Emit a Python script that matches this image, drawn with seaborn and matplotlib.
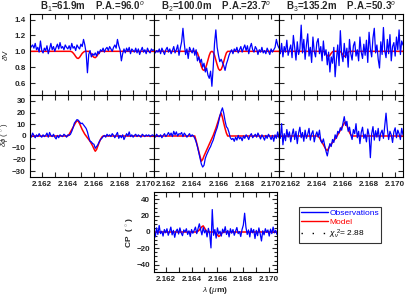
import numpy as np
import matplotlib
matplotlib.use("Agg")
import matplotlib.pyplot as plt
from matplotlib.ticker import MultipleLocator
from matplotlib.lines import Line2D
import seaborn as sns

# spectral grid (96 channels)
wl = np.linspace(2.1611, 2.1706, 96)

titles = ["B$_1$=61.9m    P.A.=96.0$^o$",
          "B$_2$=100.0m    P.A.=23.7$^o$",
          "B$_3$=135.2m    P.A.=50.3$^o$"]

# differential visibility - observations
dv_obs1 = [1.03, 1.06, 1.08, 1.04, 1.10, 1.02, 1.05, 0.99, 1.13, 1.01,
           0.98, 1.04, 1.01, 1.07, 0.97, 1.03, 1.10, 1.02, 1.06, 1.00,
           1.05, 1.09, 1.03, 1.11, 1.04, 1.06, 1.02, 1.08, 1.05, 1.03,
           1.07, 1.02, 1.10, 1.04, 1.06, 1.01, 1.08, 1.05, 1.03, 1.09,
           1.06, 1.15, 1.08, 0.98, 0.73, 0.96, 1.01, 0.93, 0.97, 0.95,
           0.98, 0.94, 1.00, 0.97, 1.02, 1.00, 1.04, 0.99, 1.03, 1.05,
           1.01, 1.06, 1.03, 1.00, 1.05, 1.08, 1.04, 1.15, 1.07, 1.02,
           0.88, 0.97, 1.03, 0.98, 1.04, 1.00, 1.05, 0.97, 1.03, 1.01,
           0.99, 1.04, 0.98, 1.03, 0.96, 1.01, 1.05, 0.99, 1.02, 0.97,
           1.04, 1.00, 0.98, 1.03, 1.01, 1.02]
dv_obs2 = [1.00, 0.98, 1.01, 0.99, 1.03, 0.97, 1.04, 1.00, 0.96, 1.02,
           1.05, 0.99, 1.03, 0.97, 1.01, 1.06, 0.98, 1.02, 1.08, 0.95,
           1.04, 1.12, 1.29, 1.10, 0.96, 1.03, 0.91, 1.05, 1.01, 0.98,
           1.04, 0.95, 1.02, 0.88, 0.93, 0.86, 0.90, 0.80, 0.85, 0.74,
           0.79, 0.70, 0.66, 0.75, 0.56, 0.80, 1.10, 1.27, 1.05, 0.95,
           0.87, 0.90, 0.86, 0.82, 0.76, 0.84, 0.89, 0.95, 0.99, 1.02,
           0.97, 1.03, 1.00, 1.05, 0.98, 1.02, 1.06, 0.99, 1.04, 1.08,
           1.01, 1.07, 0.97, 1.05, 1.10, 1.02, 0.99, 1.06, 1.03, 0.96,
           1.02, 0.99, 1.05, 0.98, 1.01, 0.97, 1.04, 1.00, 0.96, 1.03,
           0.99, 1.02, 1.05, 1.15, 1.08, 1.04]
dv_obs3 = [1.04, 0.97, 1.10, 0.93, 1.06, 0.99, 1.14, 0.95, 1.02, 1.08,
           0.92, 1.20, 1.05, 0.89, 1.12, 0.96, 1.03, 1.33, 0.98, 1.15,
           0.90, 1.08, 1.22, 0.94, 1.05, 0.86, 1.18, 1.00, 0.93, 1.11,
           1.16, 0.97, 1.06, 0.88, 1.13, 0.95, 1.02, 0.83, 0.99, 0.74,
           0.93, 0.85, 1.05, 0.68, 0.90, 1.08, 0.82, 1.26, 0.96, 0.87,
           1.10, 0.92, 1.04, 0.80, 1.15, 0.97, 0.89, 1.07, 1.12, 0.94,
           1.02, 0.88, 1.18, 0.99, 0.91, 1.09, 0.95, 1.14, 0.86, 1.24,
           1.03, 0.93, 1.17, 1.29, 0.98, 1.08, 0.90, 0.79, 1.12, 0.96,
           1.30, 1.01, 0.92, 1.15, 0.97, 1.21, 0.88, 1.06, 1.11, 0.94,
           1.18, 1.02, 1.27, 0.96, 1.13, 1.08]

# differential visibility - model
dv_mod1 = ([1.0] * 32 +
           [0.995, 0.98, 0.96, 0.935, 0.915, 0.91, 0.925, 0.95, 0.975, 0.99,
            1.0, 1.0, 1.0, 1.0, 0.99, 0.965, 0.94, 0.925, 0.92, 0.935,
            0.96, 0.985] + [1.0] * 42)
dv_mod2 = ([1.0] * 32 +
           [1.0, 0.98, 0.93, 0.87, 0.81, 0.77, 0.76, 0.78, 0.83, 0.89,
            0.95, 0.99, 1.0, 0.99, 0.95, 0.89, 0.83, 0.78, 0.76, 0.77,
            0.81, 0.87, 0.93, 0.98] + [1.0] * 40)
dv_mod3 = ([1.0] * 35 +
           [0.99, 0.97, 0.945, 0.935, 0.95, 0.975, 0.995, 1.0, 1.0, 1.0,
            1.0, 1.0, 1.0, 0.98, 0.955, 0.935, 0.945, 0.97, 0.99] + [1.0] * 42)

# differential phase (deg) - observations
dp_obs1 = [1.5, -1.0, 2.5, 0.5, -1.5, 1.0, -0.5, 2.0, 0.0, -1.0,
           1.0, -0.5, 0.5, 2.5, -1.0, 3.0, 0.5, -0.5, 1.5, -1.0,
           -2.5, 0.5, -1.5, 1.0, 0.0, -0.5, 1.5, 0.5, -1.0, 1.0,
           0.5, 1.5, 4.0, 7.0, 11.0, 12.5, 14.0, 13.5, 12.0, 10.5,
           11.0, 9.5, 8.0, 6.5, 3.5, -1.0, -4.5, -5.0, -6.5, -7.0,
           -10.5, -9.0, -7.5, -5.0, -3.0, -2.0, -0.5, 0.5, -1.0, 1.5,
           0.0, 1.0, -0.5, 2.0, 0.5, -1.5, 1.0, 3.0, -2.0, 0.5,
           -1.5, 1.0, -3.0, -0.5, 2.0, 0.0, 3.5, -0.5, 1.0, -1.0,
           0.5, 1.5, -0.5, 1.0, 0.0, -1.0, 1.5, 0.5, -0.5, 1.0,
           0.0, 1.0, -0.5, 0.5, 1.0, 0.0]
dp_obs2 = [0.5, -1.0, 1.5, 0.0, -0.5, 1.0, -1.5, 0.5, 2.0, -0.5,
           1.0, 3.0, 0.5, 2.5, -0.5, 4.0, 1.0, 3.5, 0.0, 2.0,
           1.5, 3.0, -0.5, 2.5, 1.0, -1.0, 0.5, 2.0, -0.5, 1.0,
           0.0, -2.0, -5.0, -9.0, -14.0, -19.0, -24.0, -26.5, -25.0, -19.0,
           -16.0, -13.5, -11.0, -9.0, -6.0, -3.5, 0.5, 4.0, 7.0, 11.5,
           17.0, 21.0, 24.0, 19.5, 13.0, 8.0, 6.5, 3.0, -1.5, -3.0,
           -2.0, -4.5, -1.0, -3.5, 0.5, -2.5, -1.0, -4.0, 0.0, -2.0,
           1.0, -0.5, -3.0, 0.5, 2.0, -1.5, 0.0, 1.5, -1.0, 2.5,
           0.0, -2.5, 1.0, -1.0, -3.5, 0.5, -2.0, 1.5, -0.5, -3.0,
           0.5, -4.5, 1.0, -2.0, 3.5, -1.5]
dp_obs3 = [3.0, -2.0, 10.5, -7.5, 2.0, -4.0, 5.5, -1.0, 3.5, -5.0,
           1.0, 6.0, -3.0, 4.0, -6.5, 2.5, 7.5, -1.5, 3.0, -4.5,
           5.0, -2.0, 1.5, 6.5, -3.5, 2.0, 4.5, -5.0, 0.5, 3.5,
           -1.0, 5.0, -4.0, -6.0, -2.5, -8.0, -13.0, -17.0, -11.0, -6.5,
           -9.0, -3.0, -5.5, 1.0, -2.0, 4.0, 2.5, 7.0, 5.0, 11.0,
           16.5, 9.0, 12.5, 4.0, 7.5, 1.0, -3.0, 5.5, 2.0, 10.5,
           -1.5, 4.0, -6.5, 3.0, 7.5, -2.0, 1.5, -5.0, 6.0, 0.5,
           -18.5, 2.0, 8.0, -3.5, 4.5, -1.0, 6.5, -4.0, 2.5, 5.0,
           -2.0, 8.5, 19.5, 6.0, -3.0, 4.0, 1.0, -5.5, 3.5, 7.0,
           -1.5, 5.0, 2.0, -3.0, 6.5, 1.0]

# differential phase - model
dp_mod1 = ([0.0] * 29 +
           [0.0, 1.5, 3.5, 5.5, 7.5, 9.5, 11.5, 13.0, 12.5, 10.5,
            8.0, 5.5, 3.5, 1.5, 0.0, -1.5, -3.0, -4.5, -6.5, -8.5,
            -11.0, -13.0, -11.5, -8.5, -5.5, -3.0, -1.0] + [0.0] * 40)
dp_mod2 = ([0.0] * 31 +
           [0.0, -4.0, -8.5, -13.0, -17.5, -21.5, -20.0, -17.0, -14.5, -12.0,
            -9.5, -7.0, -4.5, -2.0, 0.5, 3.5, 6.5, 10.0, 13.5, 17.0,
            19.5, 16.0, 11.0, 6.5, 2.5] + [0.0] * 40)
dp_mod3 = ([0.0] * 30 +
           [0.0, -1.5, -3.5, -5.5, -7.5, -9.5, -11.5, -12.5, -10.5, -8.5,
            -7.0, -5.5, -4.0, -2.5, -1.0, 1.0, 3.0, 5.0, 7.0, 9.0,
            11.0, 12.0, 9.0, 6.0, 3.0, 1.0] + [0.0] * 40)

# closure phase
cp_obs = [2.0, -6.0, 5.0, -3.0, 8.0, -2.0, 1.0, -5.0, 3.0, -1.0,
          4.0, -4.0, 0.5, 6.0, -3.5, 2.0, -6.5, 1.0, 3.5, -2.5,
          5.0, -1.0, -4.5, 2.5, 0.0, 4.0, -3.0, 1.5, -5.5, 3.0,
          -1.5, 2.0, 6.0, -2.0, 4.0, 10.0, 3.0, -3.5, 5.5, -1.0,
          2.5, -6.0, 4.5, -2.0, -19.5, 27.5, -4.0, 3.0, -7.5, 5.0,
          -2.5, 1.0, -5.0, 3.5, -1.0, 6.5, -3.0, 2.0, -6.0, 4.0,
          -1.5, 3.0, -4.0, 1.0, 5.5, -2.0, 0.5, -5.5, 3.0, 8.5,
          23.0, 6.0, -3.0, 2.5, -6.0, 4.5, -1.0, 3.0, -8.0, 2.0,
          -4.5, 5.0, -2.0, -11.0, 1.5, -3.5, 4.0, -0.5, 2.5, -5.0,
          3.5, -2.0, 6.0, -1.0, 2.0, -3.0]
cp_mod = ([0.0] * 33 +
          [0.0, 1.0, 2.5, 4.5, 6.5, 7.5, 5.0, 2.0, 0.5, 0.0,
           0.0, 0.0, 0.0, 0.0, 0.0, -1.5, -3.5, -5.5, -4.5, -2.0,
           -0.5] + [0.0] * 42)

sns.set_style("ticks")
plt.rcParams['font.family'] = ['Liberation Sans', 'DejaVu Sans']
plt.rcParams['mathtext.fontset'] = 'custom'
plt.rcParams['mathtext.rm'] = 'Liberation Sans'
plt.rcParams['mathtext.it'] = 'Liberation Sans:italic'

W, H = 407, 295
fig = plt.figure(figsize=(W / 100, H / 100), dpi=100)


def add_ax(x0, x1, y0, y1):
    return fig.add_axes([x0 / W, 1 - y1 / H, (x1 - x0) / W, (y1 - y0) / H])


def style(ax, ylim, ystep, xlabels, ylabels, yminor=None):
    ax.set_xlim(2.1611, 2.1706)
    ax.set_ylim(*ylim)
    ax.xaxis.set_major_locator(MultipleLocator(0.002))
    ax.xaxis.set_minor_locator(MultipleLocator(0.001))
    ax.yaxis.set_major_locator(MultipleLocator(ystep))
    ax.tick_params(which='both', direction='in', top=True, right=True,
                   length=3.5, width=0.8, labelsize=5.8, pad=3)
    if yminor:
        ax.yaxis.set_minor_locator(MultipleLocator(yminor))
        ax.tick_params(axis='y', which='minor', length=2.2)
    for lab in ax.get_xticklabels() + ax.get_yticklabels():
        lab.set_fontweight('bold')
    if not xlabels:
        ax.set_xticklabels([])
    if not ylabels:
        ax.set_yticklabels([])
    ax.set_xlabel('')
    ax.set_ylabel('')
    for s in ax.spines.values():
        s.set_linewidth(0.8)
        s.set_color('black')


xs = [(30, 154), (154, 279), (279, 403)]
dv_obs = [dv_obs1, dv_obs2, dv_obs3]
dv_mod = [dv_mod1, dv_mod2, dv_mod3]
dp_obs = [dp_obs1, dp_obs2, dp_obs3]
dp_mod = [dp_mod1, dp_mod2, dp_mod3]

for k in range(3):
    ax = add_ax(xs[k][0], xs[k][1], 14, 95)
    sns.lineplot(x=wl, y=dv_mod[k], ax=ax, color='red', lw=1.1, estimator=None)
    sns.lineplot(x=wl, y=dv_obs[k], ax=ax, color='blue', lw=0.9, estimator=None)
    style(ax, (0.45, 1.47), 0.2, False, k == 0)
    ax.set_title(titles[k], fontsize=7, fontweight='bold', pad=2)

    ax = add_ax(xs[k][0], xs[k][1], 95, 177)
    sns.lineplot(x=wl, y=dp_mod[k], ax=ax, color='red', lw=1.1, estimator=None)
    sns.lineplot(x=wl, y=dp_obs[k], ax=ax, color='blue', lw=0.9, estimator=None)
    style(ax, (-35, 35), 10, True, k == 0)

# axis titles placed in figure pixels
fig.text(5.5 / W, 1 - 55 / H, r'$\delta$V', fontsize=6, rotation=90,
         ha='center', va='center')
fig.text(5.5 / W, 1 - 135 / H, r'$\delta\phi$ ( $^{\circ}$ )', fontsize=5.5,
         rotation=90, ha='center', va='center')

ax = add_ax(154, 277, 192, 272)
sns.lineplot(x=wl, y=cp_mod, ax=ax, color='red', lw=1.1, estimator=None)
sns.lineplot(x=wl, y=cp_obs, ax=ax, color='blue', lw=0.9, estimator=None)
style(ax, (-49, 49), 20, True, True, yminor=5)
fig.text(130.5 / W, 1 - 232 / H, r'CP  ( $^{\circ}$ )', fontsize=6, fontweight='bold',
         rotation=90, ha='center', va='center')
ax.set_xlabel(r'$\lambda$ ($\mu$m)', fontsize=6, fontweight='bold', labelpad=1)

handles = [Line2D([], [], color='blue', lw=1),
           Line2D([], [], color='red', lw=1),
           Line2D([], [], color='black', lw=1, linestyle=(0, (1, 7)))]
labels = ['Observations', 'Model', r'$\chi_\nu^{\ 2}$= 2.88']
fig.legend(handles, labels, loc='upper left', bbox_to_anchor=(299 / W, 1 - 207 / H),
           frameon=True, fancybox=False, edgecolor='black', fontsize=6,
           handlelength=3.2, handletextpad=0.2, borderpad=0.25, labelspacing=0.15,
           borderaxespad=0, labelcolor=['blue', 'red', 'black']).get_frame().set_linewidth(0.8)

plt.savefig('out.png', dpi=100)
